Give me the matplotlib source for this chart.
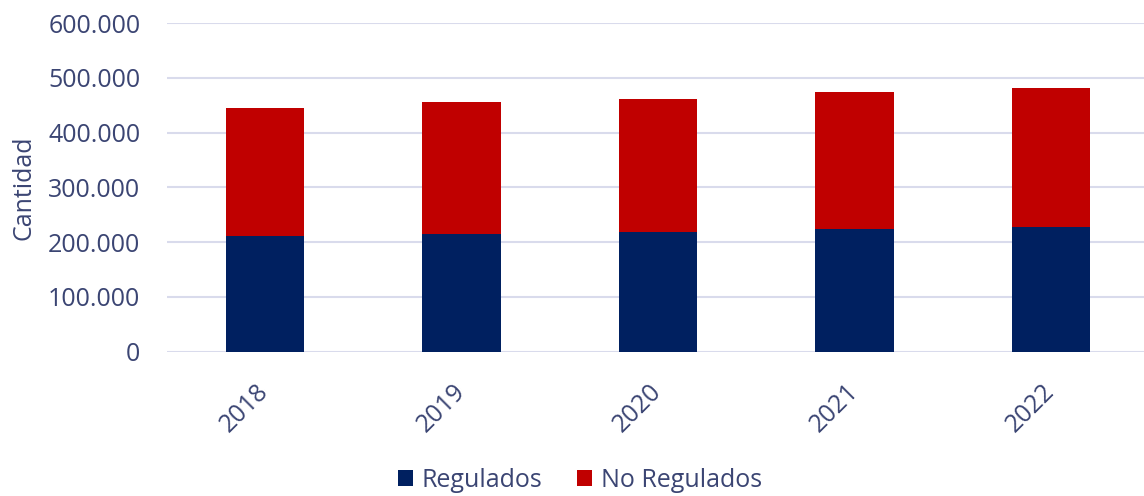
import matplotlib.pyplot as plt
from matplotlib.ticker import FuncFormatter

# datos
years = ["2018", "2019", "2020", "2021", "2022"]
regulados = [210500, 215000, 218000, 223000, 227000]
no_regulados = [234000, 241000, 243500, 251000, 255000]

text_color = "#3b4573"
plt.rcParams["font.family"] = ["Open Sans", "DejaVu Sans"]

fig = plt.figure(figsize=(11.44, 4.96), dpi=100)
ax = fig.add_axes([0.1457, 0.2913, 0.859, 0.6623])

x = range(len(years))
ax.bar(x, regulados, width=0.4, color="#002060", label="Regulados", zorder=3)
ax.bar(x, no_regulados, width=0.4, bottom=regulados, color="#C00000",
       label="No Regulados", zorder=3)

ax.set_ylim(0, 600000)
ax.set_xlim(-0.5, len(years) - 0.5)
ax.set_yticks(range(0, 600001, 100000))
ax.yaxis.set_major_formatter(FuncFormatter(lambda v, p: f"{int(v):,}".replace(",", ".")))
ax.set_xticks(list(x))
ax.set_xticklabels(years, rotation=45, ha="right", va="center",
                   rotation_mode="anchor")

ax.grid(axis="y", color="#d9dbec", linewidth=1.5, zorder=0)
for s in ax.spines.values():
    s.set_visible(False)
ax.tick_params(length=0, labelsize=18, colors=text_color)
ax.tick_params(axis="y", pad=19)
ax.tick_params(axis="x", pad=26)
ax.set_ylabel("Cantidad", fontsize=18, color=text_color, labelpad=8)

leg = fig.legend(loc="center", bbox_to_anchor=(0.507, 0.032), ncol=2,
                 frameon=False, fontsize=18, handlelength=0.6, handleheight=0.6,
                 handletextpad=0.35, columnspacing=1.4)
for t in leg.get_texts():
    t.set_color(text_color)

fig.savefig("out.png", dpi=100)
